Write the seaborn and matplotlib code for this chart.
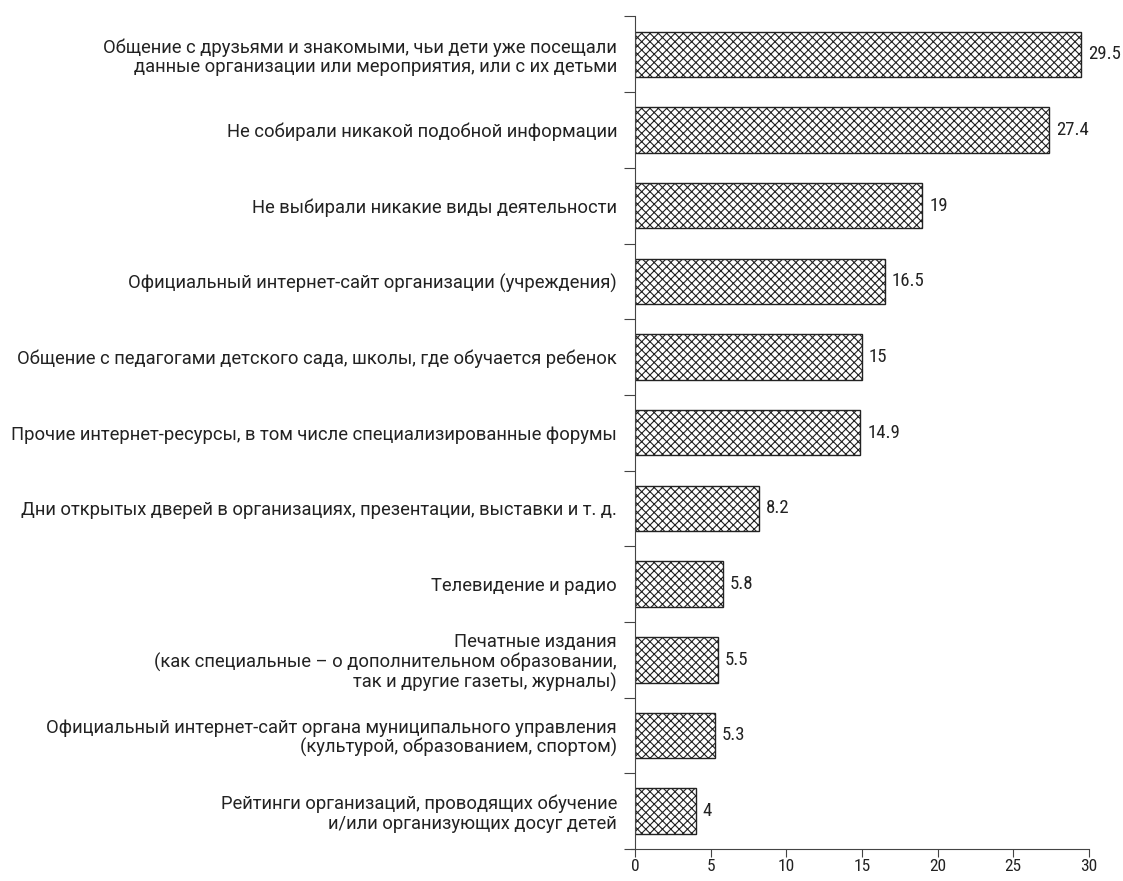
import pandas as pd
import numpy as np
import matplotlib.pyplot as plt
import seaborn as sns

categories = [
    "Общение с друзьями и знакомыми, чьи дети уже посещали\nданные организации или мероприятия, или с их детьми",
    "Не собирали никакой подобной информации",
    "Не выбирали никакие виды деятельности",
    "Официальный интернет-сайт организации (учреждения)",
    "Общение с педагогами детского сада, школы, где обучается ребенок",
    "Прочие интернет-ресурсы, в том числе специализированные форумы",
    "Дни открытых дверей в организациях, презентации, выставки и т. д.",
    "Телевидение и радио",
    "Печатные издания\n(как специальные – о дополнительном образовании,\nтак и другие газеты, журналы)",
    "Официальный интернет-сайт органа муниципального управления\n(культурой, образованием, спортом)",
    "Рейтинги организаций, проводящих обучение\nи/или организующих досуг детей",
]
values = [29.5, 27.4, 19, 16.5, 15, 14.9, 8.2, 5.8, 5.5, 5.3, 4]
value_labels = ["29.5", "27.4", "19", "16.5", "15", "14.9", "8.2", "5.8", "5.5", "5.3", "4"]
x_ticks = [0, 5, 10, 15, 20, 25, 30]

sns.set_style("ticks")
plt.rcParams['font.family'] = ['Roboto Condensed', 'Roboto', 'DejaVu Sans']
plt.rcParams['hatch.linewidth'] = 0.8

df = pd.DataFrame({"cat": categories, "val": values})

fig = plt.figure(figsize=(11.23, 8.81), dpi=100)
ax = fig.add_axes([0.5655, 0.0363, 0.404, 0.945])

sns.barplot(data=df, y="cat", x="val", orient="h", color="white",
            edgecolor="#222222", linewidth=1.0, width=0.6, ax=ax)
for p in ax.patches:
    p.set_hatch("xxxx")

for i, (v, lab) in enumerate(zip(values, value_labels)):
    ax.text(v + 0.45, i, lab, va="center", ha="left", fontsize=13.5, color="#222222")

n = len(categories)
ax.set_ylim(n - 0.5, -0.5)
ax.set_xlim(0, 30)
ax.set_yticks(np.arange(-0.5, n, 1.0))
ax.set_yticklabels([])
ax.set_yticks(np.arange(n), minor=True)
ax.set_yticklabels(categories, minor=True, fontsize=13.2, ha="right", color="#222222",
                   family=['Roboto', 'DejaVu Sans'], linespacing=1.08)
ax.tick_params(axis="y", which="major", length=8, direction="out", width=0.8, color="#444444")
ax.tick_params(axis="y", which="minor", length=0, pad=13)
ax.set_xticks(x_ticks)
ax.set_xticklabels([str(t) for t in x_ticks], fontsize=12.5, color="#222222")
ax.tick_params(axis="x", length=6, width=0.8, color="#444444", pad=1)
ax.set_xlabel("")
ax.set_ylabel("")
for s in ["top", "right"]:
    ax.spines[s].set_visible(False)
ax.spines["left"].set_color("#444444")
ax.spines["bottom"].set_color("#444444")
ax.spines["left"].set_linewidth(0.8)
ax.spines["bottom"].set_linewidth(0.8)
ax.spines["bottom"].set_bounds(-0.3, 30)

plt.savefig("out.png", dpi=100)
